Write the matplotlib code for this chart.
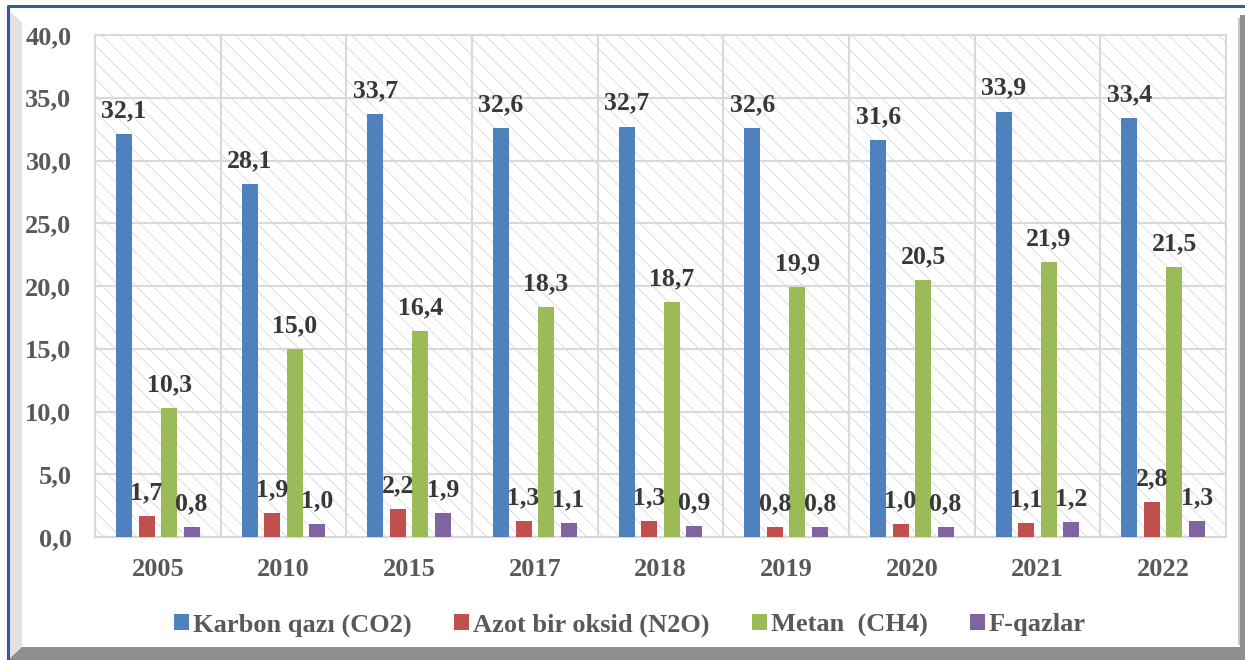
import matplotlib
matplotlib.use("Agg")
import matplotlib.pyplot as plt
from matplotlib.patches import Rectangle, Polygon
from matplotlib.ticker import FixedLocator

years = ["2005", "2010", "2015", "2017", "2018", "2019", "2020", "2021", "2022"]
co2 = [32.1, 28.1, 33.7, 32.6, 32.7, 32.6, 31.6, 33.9, 33.4]
n2o = [1.7, 1.9, 2.2, 1.3, 1.3, 0.8, 1.0, 1.1, 2.8]
ch4 = [10.3, 15.0, 16.4, 18.3, 18.7, 19.9, 20.5, 21.9, 21.5]
fgas = [0.8, 1.0, 1.9, 1.1, 0.9, 0.8, 0.8, 1.2, 1.3]
names = ["Karbon qazı (CO2)", "Azot bir oksid (N2O)", "Metan  (CH4)", "F-qazlar"]
colors = ["#4F81BD", "#C0504D", "#9BBB59", "#8064A2"]

W, H = 1245, 660
plt.rcParams["font.family"] = ["Liberation Serif", "DejaVu Serif"]
plt.rcParams["font.weight"] = "bold"
plt.rcParams["hatch.linewidth"] = 0.8

fig = plt.figure(figsize=(W / 100, H / 100), dpi=100)


def fx(px):
    return px / W


def fy(py):
    return 1 - py / H


# outer frame with shadow
fig.patches.append(Polygon([(fx(8), fy(10)), (fx(22), fy(22)), (fx(22), fy(647)),
                            (fx(8), fy(660))], closed=True, transform=fig.transFigure,
                           facecolor="#e2e2e2", edgecolor="none", zorder=0))
fig.patches.append(Polygon([(fx(8), fy(660)), (fx(22), fy(647)), (fx(1241), fy(647)),
                            (fx(1245), fy(660))], closed=True, transform=fig.transFigure,
                           facecolor="#8e8e8e", edgecolor="none", zorder=0))
fig.patches.append(Rectangle((fx(1240), fy(660)), fx(5), fy(15) - fy(660),
                             transform=fig.transFigure, facecolor="#8e8e8e",
                             edgecolor="none", zorder=0))
fig.patches.append(Rectangle((fx(1238), fy(645)), fx(2), fy(18) - fy(645),
                             transform=fig.transFigure, facecolor="#c8c8c8",
                             edgecolor="none", zorder=0))
fig.lines.append(plt.Line2D([fx(8), fx(8), fx(1245)], [fy(660), fy(6), fy(6)],
                            transform=fig.transFigure, color="#2F5E9E", lw=2.2))

ax = fig.add_axes([fx(95), fy(537), fx(1226) - fx(95), fy(35) - fy(537)])
ax.add_patch(Rectangle((0, 0), 1, 1, transform=ax.transAxes, facecolor="none",
                       edgecolor="#e0e0e0", hatch="\\\\", linewidth=0, zorder=0))

series = [co2, n2o, ch4, fgas]
step = 0.179
width = 0.127
for k, vals in enumerate(series):
    xs = [i + (k - 1.5) * step for i in range(len(years))]
    ax.bar(xs, vals, width, color=colors[k], label=names[k], zorder=3)
    for x, v in zip(xs, vals):
        ax.annotate(f"{v:.1f}".replace(".", ","), (x, v), xytext=(0, 8.5),
                    textcoords="offset points", ha="center", va="bottom",
                    fontsize=18.5, fontweight="bold", color="#383838", zorder=5)

ax.set_xlim(-0.5, len(years) - 0.5)
ax.set_ylim(0, 40)
ax.set_yticks(range(0, 41, 5))
ax.set_yticklabels([f"{v:.1f}".replace(".", ",") for v in range(0, 41, 5)])
ax.set_xticks(range(len(years)))
ax.set_xticklabels(years)
ax.xaxis.set_minor_locator(FixedLocator([i + 0.5 for i in range(len(years) - 1)]))
ax.grid(axis="y", color="#d9d9d9", lw=1.5, zorder=1)
ax.grid(axis="x", which="minor", color="#d9d9d9", lw=1.5, zorder=1)
ax.tick_params(axis="both", which="both", length=0)
ax.tick_params(axis="y", pad=17, labelsize=19, labelcolor="#595959")
ax.tick_params(axis="x", pad=15, labelsize=19, labelcolor="#595959")
for s in ax.spines.values():
    s.set_color("#d9d9d9")
    s.set_linewidth(1.5)

fig.legend(loc="center", bbox_to_anchor=(fx(630), fy(625)), ncol=4, frameon=False,
           fontsize=19, handlelength=0.57, handleheight=0.57, handletextpad=0.15,
           columnspacing=1.6, labelcolor="#595959")

fig.savefig("out.png", dpi=100)
